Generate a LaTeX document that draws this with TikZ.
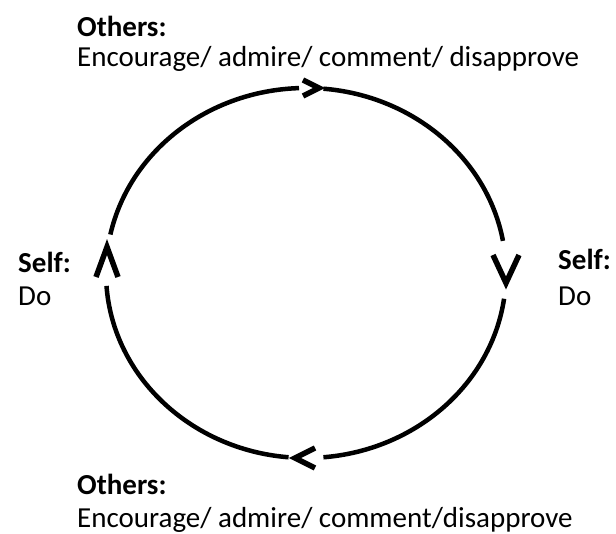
\documentclass[tikz,border=0pt]{standalone}
\usepackage{fontspec}
\setmainfont{Carlito}
\usetikzlibrary{calc}

\newcommand{\labelsize}{\fontsize{29}{35}\selectfont}

\tikzset{
    loop/.style={line width=4.5pt, black},
    chevron/.style={line width=5.5pt, black, line join=miter, miter limit=10},
    head/.style={font=\labelsize\bfseries, anchor=base west, inner sep=0pt},
    body/.style={font=\labelsize, anchor=base west, inner sep=0pt}
}

\begin{document}
\begin{tikzpicture}[x=1pt, y=1pt]
    \useasboundingbox (0,0) rectangle (616,534);
    \coordinate (ring) at (306,261);

    % Cycle arcs, with gaps left for the chevrons
    \foreach \a/\b in {92/168, 184/265, 275/352, 10/85} {
        \draw[loop] ($(ring)+(\a:200 and 185)$) arc[start angle=\a, end angle=\b, x radius=200, y radius=185];
    }

    % Chevrons on the cycle (clockwise)
    \coordinate (chevTop) at (311,446);
    \coordinate (chevRight) at (506,265);
    \coordinate (chevBottom) at (305,76);
    \coordinate (chevLeft) at (107,272);
    \foreach \n/\r/\l/\s in {chevTop/0/16/16, chevRight/-90/28/26, chevBottom/180/20/20, chevLeft/90/30/22} {
        \draw[chevron, shift={(\n)}, rotate=\r] (-\l/2, \s/2) -- (\l/2, 0) -- (-\l/2, -\s/2);
    }

    % Labels
    \node[head] (othersTop) at (77,497) {Others:};
    \node[body] (actsTop) at (77,467) {Encourage/ admire/ comment/ disapprove};
    \node[head] (selfLeft) at (18,261) {Self:};
    \node[body] (doLeft) at (18,228) {Do};
    \node[head] (selfRight) at (558,264) {Self:};
    \node[body] (doRight) at (558,228) {Do};
    \node[head] (othersBottom) at (77,39) {Others:};
    \node[body] (actsBottom) at (77,6) {Encourage/ admire/ comment/disapprove};
\end{tikzpicture}
\end{document}
